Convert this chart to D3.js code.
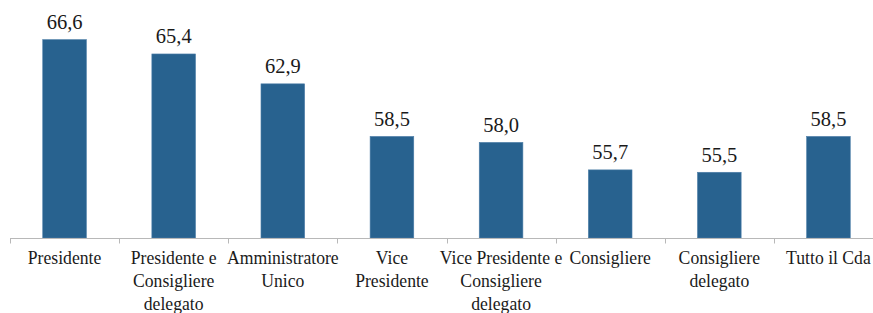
<!DOCTYPE html>
<html>
<head>
<meta charset="utf-8">
<script src="https://cdn.jsdelivr.net/npm/d3@7"></script>
</head>
<body style="margin:0; background:#fff">
<svg id="chart" width="873" height="313" font-family="Liberation Serif" style="display:block"></svg>
<script>
// categories, one entry per bar (lines as they wrap under the axis)
var categories = [
  "Presidente",
  "Presidente e Consigliere delegato",
  "Amministratore Unico",
  "Vice Presidente",
  "Vice Presidente e Consigliere delegato",
  "Consigliere",
  "Consigliere delegato",
  "Tutto il Cda"
];
var labelLines = [
  ["Presidente"],
  ["Presidente e", "Consigliere", "delegato"],
  ["Amministratore", "Unico"],
  ["Vice", "Presidente"],
  ["Vice Presidente e", "Consigliere", "delegato"],
  ["Consigliere"],
  ["Consigliere", "delegato"],
  ["Tutto il Cda"]
];
var values = [66.6, 65.4, 62.9, 58.5, 58.0, 55.7, 55.5, 58.5];
var yDomain = [50, 70];

var width = 873, height = 313;
var margin = { top: -1, left: 10, right: -10, bottom: 75 };

var svg = d3.select("svg#chart");

var x = d3.scaleBand()
  .domain(categories)
  .range([margin.left, width - margin.right])
  .paddingInner(0.6)
  .paddingOuter(0.3);

var y = d3.scaleLinear()
  .domain(yDomain)
  .range([height - margin.bottom, margin.top]);

var data = categories.map(function(c, i) {
  return { cat: c, value: values[i], lines: labelLines[i] };
});

var fmt = function(v) { return d3.format(".1f")(v).replace(".", ","); };

// bars
svg.append("g")
  .selectAll("rect")
  .data(data)
  .enter()
  .append("rect")
  .attr("x", function(d) { return x(d.cat); })
  .attr("y", function(d) { return y(d.value); })
  .attr("width", x.bandwidth())
  .attr("height", function(d) { return y(yDomain[0]) - y(d.value); })
  .attr("fill", "#28628f")
  .attr("stroke", "#4d7ea8")
  .attr("stroke-width", 0.6);

// value labels
svg.append("g")
  .selectAll("text")
  .data(data)
  .enter()
  .append("text")
  .attr("x", function(d) { return x(d.cat) + x.bandwidth() / 2; })
  .attr("y", function(d) { return y(d.value) - 10.5; })
  .attr("text-anchor", "middle")
  .attr("font-family", "Liberation Serif")
  .attr("font-size", 20.5)
  .attr("fill", "#1a1a1a")
  .text(function(d) { return fmt(d.value); });

// axis line with ticks at band edges
var axis = svg.append("g");
var base = y(yDomain[0]) + 0.5;
axis.append("line")
  .attr("x1", margin.left)
  .attr("x2", width - margin.right)
  .attr("y1", base)
  .attr("y2", base)
  .attr("stroke", "#b8b8b8")
  .attr("stroke-width", 1.2);
axis.selectAll(".tick")
  .data(d3.range(categories.length + 1))
  .enter()
  .append("line")
  .attr("class", "tick")
  .attr("x1", function(i) { return Math.round(margin.left + i * x.step()) + 0.5; })
  .attr("x2", function(i) { return Math.round(margin.left + i * x.step()) + 0.5; })
  .attr("y1", base)
  .attr("y2", base + 5)
  .attr("stroke", "#b8b8b8")
  .attr("stroke-width", 1);

// category labels
var labels = axis.selectAll(".cat")
  .data(data)
  .enter()
  .append("text")
  .attr("class", "cat")
  .attr("text-anchor", "middle")
  .attr("transform", function(d) {
    return "translate(" + (x(d.cat) + x.bandwidth() / 2) + "," + (base + 25) + ") scale(0.93,1)";
  })
  .attr("font-family", "Liberation Serif")
  .attr("font-size", 19)
  .attr("fill", "#1a1a1a");
labels.selectAll("tspan")
  .data(function(d) { return d.lines; })
  .enter()
  .append("tspan")
  .attr("x", 0)
  .attr("dy", function(l, i) { return i == 0 ? 0 : 23.5; })
  .text(function(l) { return l; });
</script>
</body>
</html>
